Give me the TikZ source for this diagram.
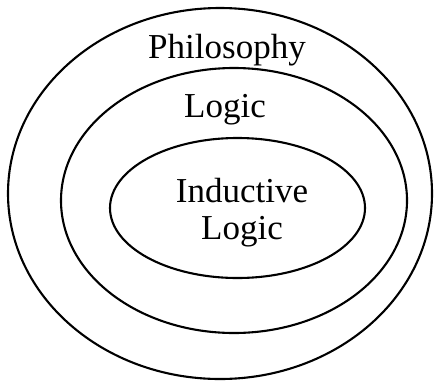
\documentclass[tikz,border=0pt]{standalone}
\usepackage{fontspec}
\setmainfont{Liberation Serif}
\begin{document}
\begin{tikzpicture}[x=1pt,y=-1pt,
  ring/.style={draw=black,line width=2.1pt},
  lbl/.style={font=\fontsize{35}{37}\selectfont,align=center,inner sep=0pt}]
\useasboundingbox (0,0) rectangle (435,383);
\draw[ring] (220,193.5) ellipse [x radius=212,y radius=185.5];
\draw[ring] (234,200.5) ellipse [x radius=173,y radius=132.5];
\draw[ring] (237.5,208) ellipse [x radius=127.5,y radius=70];
\node[lbl] (phil) at (227,50) {Philosophy};
\node[lbl] (logic) at (225,110) {Logic};
\node[lbl] (ind) at (242,213) {Inductive\\Logic};
\end{tikzpicture}
\end{document}
